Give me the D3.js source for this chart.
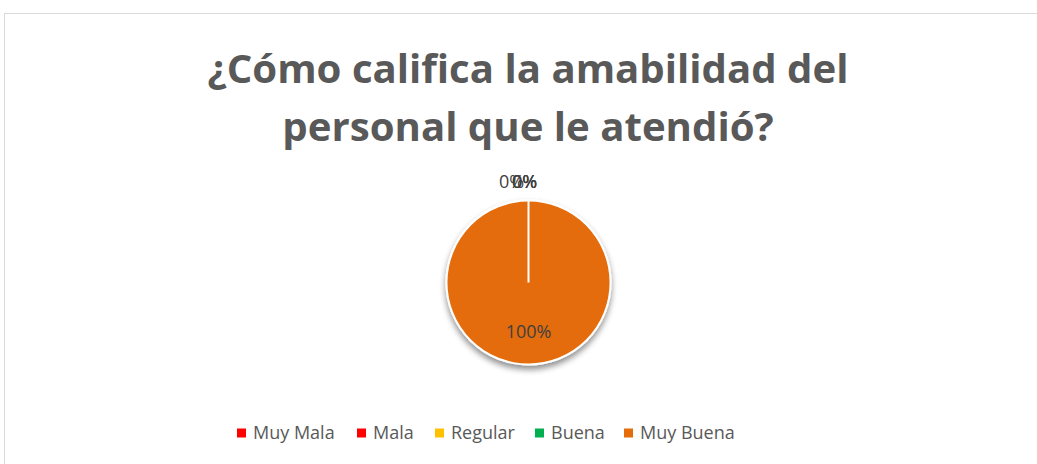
<!DOCTYPE html>
<html><head><meta charset="utf-8">
<script src="https://cdn.jsdelivr.net/npm/d3@7"></script>
<style>body{margin:0;background:#fff}svg{display:block}</style>
</head><body>
<svg id="c" width="1037" height="464"></svg>
<script>
const categories = ["Muy Mala", "Mala", "Regular", "Buena", "Muy Buena"];
const values = [0, 0, 0, 0, 100];
const colors = ["#FF0000", "#FF0000", "#FFC000", "#00B050", "#E46C0A"];
const titleLines = ["¿Cómo califica la amabilidad del", "personal que le atendió?"];

const svg = d3.select("#c");
const W = 1037, H = 464;
const font = "'Open Sans', sans-serif";

// border
svg.append("rect").attr("x", 4.5).attr("y", 13.5).attr("width", W).attr("height", H)
  .attr("fill", "#fff").attr("stroke", "#d9d9d9").attr("stroke-width", 1);

// title
const tt = svg.append("g").selectAll("text").data(titleLines).join("text")
  .attr("x", 528).attr("y", (d, i) => 83 + i * 58)
  .attr("text-anchor", "middle").attr("font-family", font)
  .attr("font-weight", "bold").attr("font-size", 40).attr("fill", "#595959")
  .text(d => d);
{
  const w = tt.nodes()[0].getComputedTextLength();
  tt.attr("font-size", 40 * 641 / w);
}

// shadow filter
const defs = svg.append("defs");
const f = defs.append("filter").attr("id", "sh").attr("x", "-30%").attr("y", "-30%").attr("width", "160%").attr("height", "160%");
f.append("feGaussianBlur").attr("in", "SourceAlpha").attr("stdDeviation", 3);
f.append("feOffset").attr("dx", 0).attr("dy", 4).attr("result", "ob");
f.append("feComponentTransfer").append("feFuncA").attr("type", "linear").attr("slope", 0.45);
const m = f.append("feMerge"); m.append("feMergeNode"); m.append("feMergeNode").attr("in", "SourceGraphic");

const cx = 528.5, cy = 282.5, R = 82;
const data = categories.map((c, i) => ({ cat: c, value: values[i], color: colors[i] }));
const pie = d3.pie().value(d => d.value).sort(null);
const arcs = pie(data);
const arc = d3.arc().innerRadius(0).outerRadius(R);
const g = svg.append("g").attr("transform", `translate(${cx},${cy})`);
g.append("g").attr("filter", "url(#sh)").selectAll("path").data(arcs).join("path")
  .attr("d", arc).attr("fill", d => d.data.color)
  .attr("stroke", "#fff").attr("stroke-width", 2);
g.append("line").attr("x1", 0).attr("y1", 0).attr("x2", 0).attr("y2", -R)
  .attr("stroke", "#fff").attr("stroke-width", 2);

const total = d3.sum(values);
const pct = d3.format(".0%");
const lblArcIn = d3.arc().innerRadius(R * 0.6).outerRadius(R * 0.6);
g.selectAll("text.lbl").data(arcs).join("text").attr("class", "lbl")
  .attr("transform", (d, i) => {
    if (d.value > 0) {
      const [x, y] = lblArcIn.centroid(d);
      return `translate(${x},${y})`;
    }
    const a = d.startAngle;
    const rr = R + 19;
    const dx = i === 0 ? -17 : -4;
    return `translate(${Math.sin(a) * rr + dx},${-Math.cos(a) * rr})`;
  })
  .attr("text-anchor", "middle").attr("dy", "0.35em")
  .attr("font-family", font).attr("font-size", 18).attr("fill", "#404040")
  .text(d => pct(d.value / total));

// legend
const legX = [237, 357, 435, 535, 624];
const leg = svg.append("g").selectAll("g").data(data).join("g")
  .attr("transform", (d, i) => `translate(${legX[i]},433)`);
leg.append("rect").attr("x", 0).attr("y", -4.5).attr("width", 9).attr("height", 9).attr("fill", d => d.color);
leg.append("text").attr("x", 16).attr("dy", "0.35em").attr("font-family", font)
  .attr("font-size", 18).attr("fill", "#595959").text(d => d.cat);
</script>
</body></html>
